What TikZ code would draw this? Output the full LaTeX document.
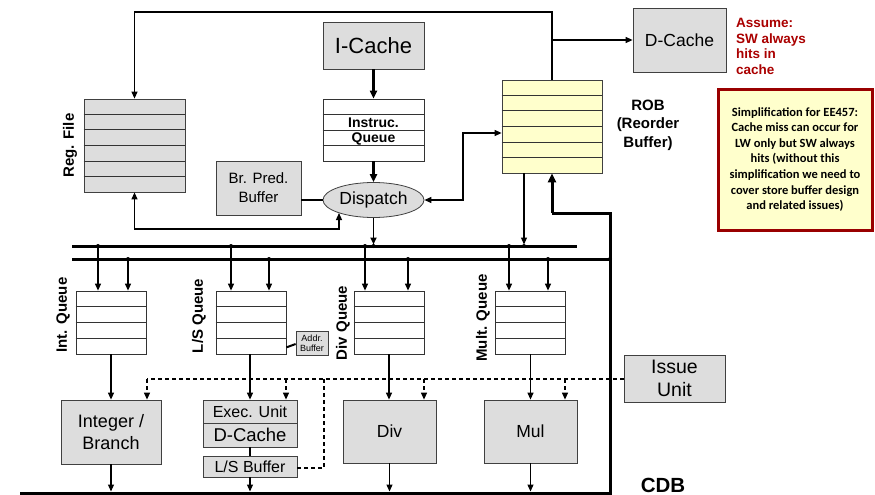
\documentclass[tikz,border=0pt]{standalone}
\usepackage{fontspec}
\setmainfont{Liberation Sans}
\newfontfamily\notefont{Carlito}
\usetikzlibrary{arrows.meta,calc,shapes.geometric}
\definecolor{boxgray}{RGB}{221,221,221}
\definecolor{robyel}{RGB}{255,255,204}
\definecolor{darkred}{RGB}{153,0,0}
\definecolor{notered}{RGB}{170,0,0}
\newcommand{\fs}[2]{\fontsize{#1}{#2}\selectfont}
\begin{document}
\begin{tikzpicture}[x=1pt,y=-1pt,
  gbox/.style={draw=black!75, line width=0.8pt, fill=boxgray, inner sep=0pt, align=center},
  wbox/.style={draw=black!80, line width=0.8pt, fill=white, inner sep=0pt},
  rowline/.style={draw=black!80, line width=0.8pt},
  ar/.style={-{Triangle[length=7pt,width=6pt]}, line width=1.2pt},
  dar/.style={{Triangle[length=7pt,width=6pt]}-{Triangle[length=7pt,width=6pt]}, line width=1.2pt},
  tar/.style={-{Triangle[length=8pt,width=7pt]}, line width=2.4pt},
  cdb/.style={line width=3pt},
  bus/.style={line width=3pt},
  dsh/.style={dashed, dash pattern=on 4pt off 3pt, line width=1.2pt},
  dar2/.style={dsh, -{Triangle[length=7pt,width=6pt]}},
  lbl/.style={font=\bfseries\fs{15}{17}, inner sep=0pt},
]
\useasboundingbox (0,0) rectangle (875,495);

% ---------- nodes ----------
\node[gbox, minimum width=101, minimum height=47, font=\fs{22}{24}] (ic) at (373.5,45.5) {I-Cache};
\node[wbox, minimum width=101, minimum height=62] (iq) at (373.5,130) {};
\node[gbox, ellipse, minimum width=101, minimum height=35, font=\fs{17.5}{19}] (disp) at (373.5,200) {Dispatch};
\node[gbox, minimum width=85, minimum height=54, font=\fs{15}{19}] (bp) at (258.5,188) {Br. Pred.\\Buffer};
\node[gbox, minimum width=101, minimum height=93] (rf) at (134.5,145.5) {};
\node[draw=black!75, line width=0.8pt, fill=robyel, minimum width=100, minimum height=93, inner sep=0pt] (rob) at (552,126.5) {};
\node[gbox, minimum width=93, minimum height=64, font=\fs{17.5}{19}] (dc) at (679.5,40) {D-Cache};
\node[draw=darkred, line width=3pt, fill=robyel, minimum width=154, minimum height=141, inner sep=0pt, align=center,
      font=\notefont\bfseries\fs{12.5}{15.6}] (note) at (795,159.5)
  {Simplification for EE457:\\Cache miss can occur for\\LW only but SW always\\hits (without this\\simplification we need to\\cover store buffer design\\and related issues)};

% queues
\node[wbox, minimum width=70, minimum height=63] (intq) at (111,322.5) {};
\node[wbox, minimum width=70, minimum height=63] (lsq) at (251,322.5) {};
\node[wbox, minimum width=70, minimum height=63] (divq) at (389,322.5) {};
\node[wbox, minimum width=70, minimum height=63] (mulq) at (530.5,322.5) {};
\node[gbox, minimum width=32, minimum height=24, font=\fs{9}{10}] (addr) at (312,343) {Addr.\\Buffer};

% units
\node[gbox, minimum width=100, minimum height=64, font=\fs{18}{22}] (ib) at (111,432) {Integer /\\Branch};
\node[gbox, minimum width=94, minimum height=23, font=\fs{16}{18}] (ex) at (250,411.5) {Exec. Unit};
\node[gbox, minimum width=94, minimum height=24, font=\fs{18.5}{20}] (dc2) at (250,435) {D-Cache};
\node[gbox, minimum width=94, minimum height=21, font=\fs{16}{18}] (lsb) at (250,466.5) {L/S Buffer};
\node[gbox, minimum width=93, minimum height=63, font=\fs{17.5}{19}] (div) at (389.5,431.5) {Div};
\node[gbox, minimum width=93, minimum height=63, font=\fs{17.5}{19}] (mul) at (530.5,431.5) {Mul};
\node[gbox, minimum width=101, minimum height=47, font=\fs{19.5}{23}] (iu) at (674.5,378.5) {Issue\\Unit};

% rows
\foreach \n/\k in {rf/6, rob/6, iq/4, intq/4, lsq/4, divq/4, mulq/4} {
  \pgfmathtruncatemacro{\km}{\k-1}
  \foreach \i in {1,...,\km}
    \draw[rowline] ($(\n.north west)!\i/\k!(\n.south west)$) -- ($(\n.north east)!\i/\k!(\n.south east)$);
}
\node[font=\bfseries\fs{14}{16}, inner sep=0pt] (iqt1) at (373.5,123) {Instruc.};
\node[font=\bfseries\fs{14}{16}, inner sep=0pt] (iqt2) at (373.5,138.5) {Queue};

% labels
\node[lbl, rotate=90] (rfl) at (70,145.5) {Reg. File};
\node[lbl, rotate=90] (intl) at (63,315) {Int. Queue};
\node[lbl, rotate=90] (lsl) at (199,316) {L/S Queue};
\node[lbl, rotate=90] (divl) at (343,323) {Div Queue};
\node[lbl, rotate=90] (mull) at (483,318) {Mult. Queue};
\node[font=\bfseries\fs{15}{18.5}, align=center, inner sep=0pt] (robl) at (648,125) {ROB\\(Reorder\\Buffer)};
\node[font=\bfseries\fs{13.5}{15.7}, text=notered, align=left, anchor=north west, inner sep=0pt] (assume) at (736,18) {Assume:\\SW always\\hits in\\cache};
\node[font=\bfseries\fs{20.5}{24}, inner sep=0pt, anchor=base] (cdbl) at (663,492) {CDB};

% ---------- connectors ----------
\coordinate (t1) at (552,12);
\coordinate (t0) at (134.5,12);
\coordinate (td) at (552,40);
\draw[ar] (rob.north -| t1) -- (t1) -- (t0) -- (rf.north);
\draw[ar] (td) -- (dc.west |- td);

\draw[tar] (ic.south) -- (iq.north);
\draw[tar] (iq.south) -- (disp.north);
\draw[line width=2.6pt] (bp.east |- disp.west) -- (disp.west);

\coordinate (dr1) at (463,200);
\coordinate (dr2) at (463,133);
\draw[dar] (disp.east) -- (dr1) -- (dr2) -- (dr2 -| rob.west);

\coordinate (rb1) at (134.5,229);
\coordinate (rb2) at (339,229);
\coordinate (rb3) at (339,213);
\draw[dar] (rf.south) -- (rb1) -- (rb2) -- (rb3);

% buses and CDB
\coordinate (b1l) at (72,246);
\coordinate (b1r) at (577,246);
\coordinate (b2l) at (72,259);
\coordinate (b2r) at (610,259);
\coordinate (cdbL) at (20,493);
\coordinate (cdbR) at (610,493);
\coordinate (cdbT) at (610,213);
\coordinate (robin) at (552,213);
\draw[bus] (b1l) -- (b1r);
\draw[bus] (b2l) -- (b2r);
\draw[cdb] (cdbL) -- (cdbR) -- (cdbT) -- (robin);
\draw[-{Triangle[length=9pt,width=8pt]}, line width=3pt] (robin) -- (rob.south -| robin);
\fill (b2r) circle (2pt);

\draw[ar, line width=1.8pt] (disp.south) -- ($(disp.south |- b1l)+(0,-1.5)$);
\fill (disp.south |- b1l) circle (2pt);
\coordinate (rd) at (524,173);
\draw[ar] (rob.south -| rd) -- ($(rd |- b1l)+(0,-1.5)$);
\fill (rd |- b1l) circle (2pt);

% taps
\foreach \q/\a/\b in {intq/98/128, lsq/231/269, divq/365/408, mulq/509/548} {
  \fill (\a,246) circle (2pt);
  \fill (\b,259) circle (2pt);
  \draw[ar] (\a,246) -- (\a,246 |- \q.north);
  \draw[ar] (\b,259) -- (\b,259 |- \q.north);
}

% queue -> unit
\draw[ar] (intq.south) -- (intq.south |- ib.north);
\draw[ar] (lsq.south -| ex.north) -- (ex.north);
\draw[ar] (divq.south) -- (divq.south |- div.north);
\draw[ar] (mulq.south) -- (mulq.south |- mul.north);
\draw[line width=1.2pt] (dc2.south) -- (lsb.north);
\draw[line width=2pt] ($(lsq.south east)+(0,-7)$) -- ($(addr.west)+(0,1)$);

% unit -> CDB
\draw[ar] (ib.south) -- ($(ib.south |- cdbL)+(0,-1.5)$);
\draw[ar] (lsb.south) -- ($(lsb.south |- cdbL)+(0,-1.5)$);
\draw[ar] (div.south) -- ($(div.south |- cdbL)+(0,-1.5)$);
\draw[ar] (mul.south) -- ($(mul.south |- cdbL)+(0,-1.5)$);

% issue unit dashed
\coordinate (d0) at (147,379);
\coordinate (d1) at (286,379);
\coordinate (d2) at (424,379);
\coordinate (d3) at (565,379);
\coordinate (d4) at (324,379);
\coordinate (d5) at (324,468);
\draw[dsh] (iu.west |- d0) -- (d0);
\draw[dar2] (d0) -- (d0 |- ib.north);
\draw[dar2] (d1) -- (d1 |- ex.north);
\draw[dar2] (d2) -- (d2 |- div.north);
\draw[dar2] (d3) -- (d3 |- mul.north);
\draw[dsh] (d4) -- (d5) -- (d5 -| lsb.east);
\end{tikzpicture}
\end{document}
